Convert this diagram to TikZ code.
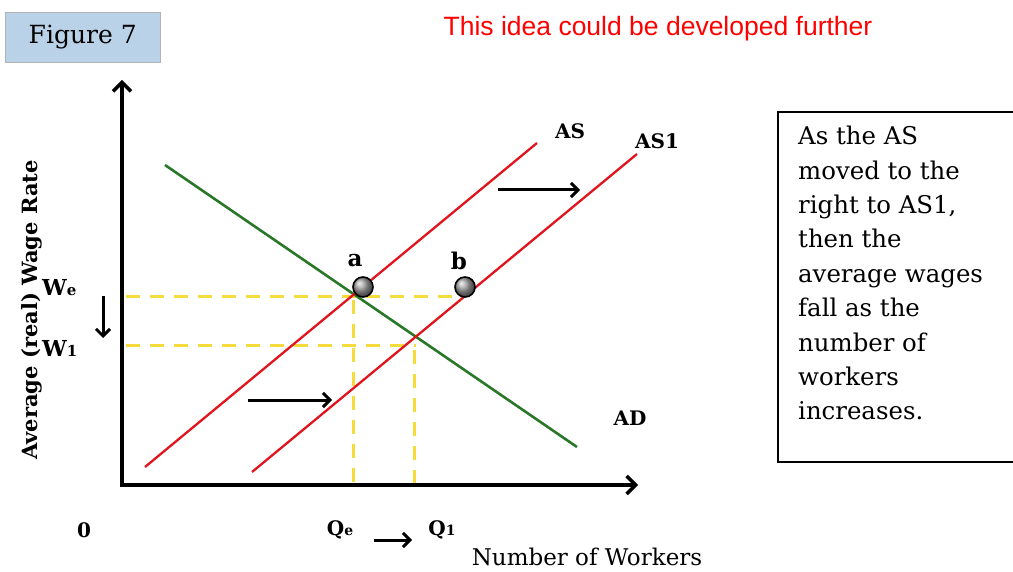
\documentclass[tikz,border=0pt]{standalone}
\usepackage{fontspec}
\setmainfont{DejaVu Serif}
\newfontfamily\redfont{Liberation Sans}
\usetikzlibrary{arrows.meta}
\definecolor{figblue}{RGB}{185,210,232}
\definecolor{adgreen}{RGB}{40,120,40}
\definecolor{asred}{RGB}{225,20,30}
\definecolor{dashyellow}{RGB}{245,220,60}
\tikzset{
  axisline/.style={line width=3.4pt,-{Straight Barb[length=9pt,width=18pt,line width=3.4pt]}},
  shiftarrow/.style={line width=3pt,-{Straight Barb[length=7pt,width=14pt,line width=3pt]}},
  supply/.style={asred,line width=2.3pt},
  demand/.style={adgreen,line width=2.6pt},
  guide/.style={dashyellow,line width=3pt,dash pattern=on 14pt off 10pt},
  lbl/.style={font=\fontsize{20}{22}\selectfont\bfseries,inner sep=0pt},
  ball/.style={circle,draw=black,line width=1.6pt,ball color=gray!75,minimum size=20pt,inner sep=0pt},
}
\begin{document}
\begin{tikzpicture}[x=1pt,y=-1pt]
\useasboundingbox (0,0) rectangle (1013,572);
% Figure 7 label
\node[draw=gray!60,fill=figblue,minimum width=155pt,minimum height=50pt,inner sep=0pt,anchor=north west,
  font=\fontsize{25}{28}\selectfont] (fig) at (5,12) {Figure 7};
% red note
\node[text=red,font=\redfont\fontsize{26.5}{30}\selectfont,inner sep=0pt] (note) at (658,29) {This idea could be developed further};
% axes
\coordinate (O) at (122,485);
\coordinate (ytop) at (122,80);
\coordinate (xend) at (638,485);
\draw[axisline] (122,487) -- (ytop);
\draw[axisline] (120,485) -- (xend);
% guides
\coordinate (a0) at (355,297);
\coordinate (b0) at (465,297);
\coordinate (c0) at (416,346);
\draw[guide] (126,297) -- (b0);
\draw[guide] (126,346) -- (c0);
\draw[guide] (353,300) -- (353,483);
\draw[guide] (414,350) -- (414,483);
% curves
\coordinate (as1) at (145,467);
\coordinate (as2) at (537,143);
\coordinate (bs1) at (252,472);
\coordinate (bs2) at (637,154);
\coordinate (ad1) at (165,165);
\coordinate (ad2) at (577,447);
\draw[demand] (ad1) -- (ad2);
\draw[supply] (as1) -- (as2);
\draw[supply] (bs1) -- (bs2);
% points
\node[ball] (pa) at (363,287) {};
\node[ball] (pb) at (465,287) {};
\node[lbl,font=\fontsize{23}{24}\selectfont\bfseries] (la) at (355,261) {a};
\node[lbl,font=\fontsize{23}{24}\selectfont\bfseries] (lb) at (459,261) {b};
% shift arrows
\coordinate (u1) at (498,190); \coordinate (u2) at (580,190);
\draw[shiftarrow] (u1) -- (u2);
\coordinate (l1) at (248,400); \coordinate (l2) at (332,400);
\draw[shiftarrow] (l1) -- (l2);
\coordinate (d1) at (103,296); \coordinate (d2) at (103,338);
\draw[shiftarrow] (d1) -- (d2);
% curve labels
\node[lbl] (tas) at (570,131) {AS};
\node[lbl] (tas1) at (657,141) {AS1};
\node[lbl] (tad) at (630,418) {AD};
% axis labels
\node[lbl,anchor=west,font=\fontsize{22}{22}\selectfont\bfseries] (we) at (42,288) {W{\fontsize{15}{15}\selectfont e}};
\node[lbl,anchor=west,font=\fontsize{22}{22}\selectfont\bfseries] (w1) at (42,348) {W{\fontsize{15}{15}\selectfont 1}};
\node[lbl] (zero) at (84,530) {0};
\node[lbl] (qe) at (340,530) {Q{\fontsize{14}{14}\selectfont e}};
\node[lbl] (q1) at (442,530) {Q{\fontsize{14}{14}\selectfont 1}};
\coordinate (q1a) at (374,540); \coordinate (q2a) at (412,540);
\draw[shiftarrow,line width=3pt] (q1a) -- (q2a);
\node[font=\fontsize{23}{26}\selectfont,inner sep=0pt] (xlab) at (587,557) {Number of Workers};
\node[font=\fontsize{21}{24}\selectfont\bfseries,inner sep=0pt,rotate=90] (ylab) at (32,310) {Average (real) Wage Rate};
% explanation box
\draw[line width=1.5pt] (1013,112) -- (778,112) -- (778,462) -- (1013,462);
\node[anchor=north west,align=left,inner sep=0pt,font=\fontsize{24.4}{34.4}\selectfont] (expl) at (798,126)
 {As the AS\\moved to the\\right to AS1,\\then the\\average wages\\fall as the\\number of\\workers\\increases.};
\end{tikzpicture}
\end{document}
